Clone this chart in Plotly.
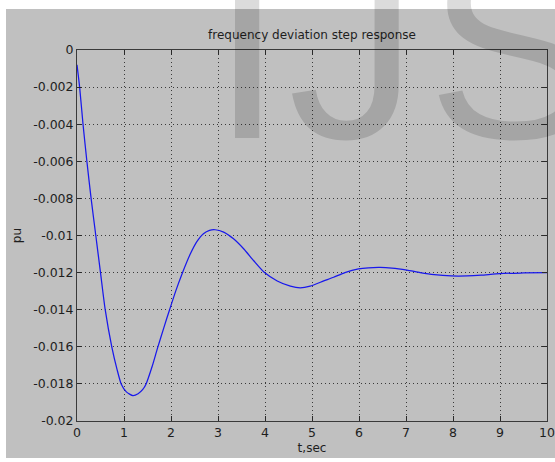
import plotly.graph_objects as go

# ---- data ----
t_sec = [0.0, 0.056, 0.128, 0.21, 0.30, 0.40, 0.50, 0.60, 0.74, 0.85, 0.94, 1.05, 1.19,
         1.30, 1.40, 1.47, 1.60, 1.71, 1.85, 1.97, 2.10, 2.23, 2.41, 2.55, 2.69, 2.82, 2.94,
         3.12, 3.33, 3.55, 3.76, 3.99, 4.26, 4.54, 4.75, 4.96, 5.25, 5.46, 5.70, 5.99,
         6.20, 6.45, 6.70, 7.02, 7.30, 7.60, 7.96, 8.30, 8.60, 9.00, 9.50, 10.0]
pu = [-0.0008, -0.0020, -0.0040, -0.0060, -0.0080, -0.0100, -0.0120, -0.0140, -0.0160,
      -0.0172, -0.0180, -0.01843, -0.01863,
      -0.01853, -0.0183, -0.0180, -0.01705, -0.0161, -0.01495, -0.0140, -0.0130, -0.0121,
      -0.0110, -0.01033, -0.0099, -0.00972, -0.00969,
      -0.00982, -0.01018, -0.01073, -0.01136, -0.0120, -0.01245, -0.01273, -0.01282,
      -0.01273, -0.01245, -0.01225, -0.0120, -0.0118,
      -0.01174, -0.01172, -0.01176, -0.01187, -0.0120, -0.01211, -0.01218, -0.01218,
      -0.01214, -0.01205, -0.01202, -0.0120]

x_ticks = [0, 1, 2, 3, 4, 5, 6, 7, 8, 9, 10]
x_tick_labels = ["0", "1", "2", "3", "4", "5", "6", "7", "8", "9", "10"]
y_ticks = [0, -0.002, -0.004, -0.006, -0.008, -0.01, -0.012, -0.014, -0.016, -0.018, -0.02]
y_tick_labels = ["0", "-0.002", "-0.004", "-0.006", "-0.008", "-0.01", "-0.012",
                 "-0.014", "-0.016", "-0.018", "-0.02"]

title_text = "frequency deviation step response"
x_title = "t,sec"
y_title = "pu"
watermark_letters = ["I", "J", "S"]

W, H = 555, 462
ML, MR, MT, MB = 77, 8, 50, 41
pw = W - ML - MR
ph = H - MT - MB

def px_to_paper_x(px):
    return (px - ML) / pw

def px_to_paper_y(py):
    return (H - MB - py) / ph

BG = "#c0c0c0"
FONT = "DejaVu Sans, Verdana, sans-serif"
WM_FONT = "Liberation Sans, Arial, sans-serif"
TXT = "#1e1e1e"

fig = go.Figure()
fig.add_trace(go.Scatter(x=t_sec, y=pu, mode="lines",
                         line=dict(color="#1818ec", width=1.25, shape="spline", smoothing=0.6),
                         hoverinfo="skip", showlegend=False))

axis_common = dict(
    showline=True, linecolor="#3a3a3a", linewidth=1, mirror="ticks",
    ticks="inside", ticklen=5, tickcolor="#2a2a2a", tickwidth=1,
    showgrid=True, gridcolor="#3a3a3a", gridwidth=1, griddash="1px,3px",
    zeroline=False, tickfont=dict(family=FONT, size=12.5, color=TXT),
)

fig.update_xaxes(range=[0, 10], tickmode="array", tickvals=x_ticks, ticktext=x_tick_labels,
                 title=dict(text=x_title, font=dict(family=FONT, size=12, color=TXT), standoff=4),
                 **axis_common)
fig.update_yaxes(range=[-0.02, 0], tickmode="array", tickvals=y_ticks, ticktext=y_tick_labels,
                 title=dict(text=y_title, font=dict(family=FONT, size=12, color=TXT), standoff=9),
                 **axis_common)

# watermark letter positions (left edge of each glyph box, px)
wm_left_px = [209, 286, 425]
wm_annotations = [
    dict(text=ch, xref="paper", yref="paper",
         x=px_to_paper_x(xp), y=px_to_paper_y(48),
         xanchor="left", yanchor="middle", showarrow=False,
         font=dict(family=WM_FONT, size=260, color="rgba(0,0,0,0.14)"))
    for ch, xp in zip(watermark_letters, wm_left_px)
]

fig.update_layout(
    width=W, height=H, autosize=False,
    margin=dict(l=ML, r=MR, t=MT, b=MB, pad=0, autoexpand=False),
    paper_bgcolor="white",
    plot_bgcolor="rgba(0,0,0,0)",
    title=dict(text=title_text, x=0.5 * (ML + (W - MR)) / W, xanchor="center",
               y=(H - 35) / H, yanchor="middle",
               font=dict(family=FONT, size=12, color=TXT)),
    shapes=[dict(type="rect", xref="paper", yref="paper", layer="below",
                 x0=px_to_paper_x(6), x1=px_to_paper_x(556),
                 y0=px_to_paper_y(458), y1=px_to_paper_y(9),
                 fillcolor=BG, line=dict(width=0))],
    annotations=wm_annotations,
)

fig.write_html(
    "out.html",
    config={"displayModeBar": False, "responsive": False},
    post_script=("document.documentElement.style.margin='0px';"
                 "document.body.style.margin='0px';"
                 "document.documentElement.style.overflow='hidden';"
                 "document.body.style.overflow='hidden';"),
)
